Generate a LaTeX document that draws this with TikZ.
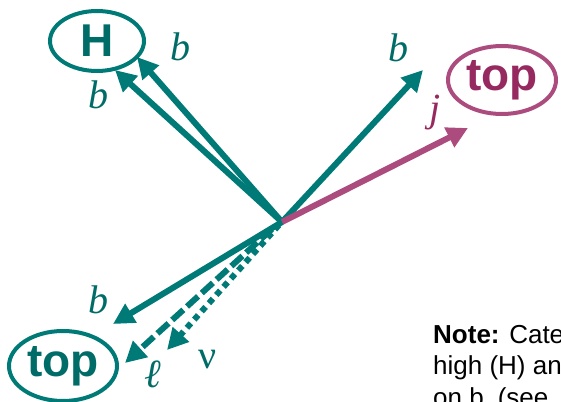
\documentclass[tikz,border=0pt]{standalone}
\usepackage{fontspec}
\setmainfont{Liberation Serif}
\setsansfont{Liberation Sans}
\usetikzlibrary{arrows.meta,shapes.geometric}
\definecolor{teal1}{RGB}{0,122,118}
\definecolor{tealtxt}{RGB}{0,108,104}
\definecolor{mag1}{RGB}{172,76,126}
\definecolor{magtxt}{RGB}{150,42,96}
\tikzset{
  vec/.style={line width=6pt, -{Triangle[length=21pt,width=21pt]}},
  oval/.style={ellipse, draw, line width=4pt, font=\sffamily\bfseries\fontsize{46}{46}\selectfont, inner sep=0pt},
  lbl/.style={font=\itshape\fontsize{40}{40}\selectfont, inner sep=0pt},
}
\begin{document}
\begin{tikzpicture}[x=1pt,y=-1pt]
\useasboundingbox (0,0) rectangle (561,401);
\coordinate (O) at (282,222);
% ellipses
\node[oval, teal1, text=tealtxt, minimum width=94pt, minimum height=60pt] (H) at (97,41) {H};
\node[oval, mag1, text=magtxt, minimum width=108pt, minimum height=68pt] (topR) at (502,80) {top};
\node[oval, teal1, text=tealtxt, minimum width=108pt, minimum height=70pt] (topL) at (63,366) {top};
% tips
\coordinate (t1) at (115,70);
\coordinate (t2) at (137,57);
\coordinate (t3) at (423,70);
\coordinate (t4) at (468,128);
\coordinate (t5) at (113,324);
\coordinate (t6) at (125,363);
\coordinate (t7) at (167,350);
\coordinate (s6) at (272,229);
\coordinate (s7) at (279,225);
% arrows
\draw[vec, teal1] (O) -- (t1);
\draw[vec, teal1] (O) -- (t2);
\draw[vec, teal1] (O) -- (t3);
\draw[vec, mag1] (O) -- (t4);
\draw[vec, teal1] (O) -- (t5);
\draw[vec, teal1, dash pattern=on 15pt off 5pt] (s6) -- (t6);
\draw[vec, teal1, dash pattern=on 6pt off 5pt] (s7) -- (t7);
% labels
\node[lbl, text=tealtxt] (lb1) at (98,95) {b};
\node[lbl, text=tealtxt] (lb2) at (180,47) {b};
\node[lbl, text=tealtxt] (lb3) at (398,48) {b};
\node[lbl, text=magtxt] (lj) at (435,113) {j};
\node[lbl, text=tealtxt] (lb4) at (98,300) {b};
\node[lbl, text=tealtxt] (ll) at (153,374) {ℓ};
\node[font=\fontsize{40}{40}\selectfont, inner sep=0pt, text=tealtxt] (lnu) at (208,360) {ν};
% note
\node[anchor=base west, font=\sffamily\fontsize{26}{31.5}\selectfont, inner sep=0pt, align=left] (note) at (433,406) {\textbf{Note:} Cate\\high (H) an\\on b\hspace{14pt}(see};
\end{tikzpicture}
\end{document}
